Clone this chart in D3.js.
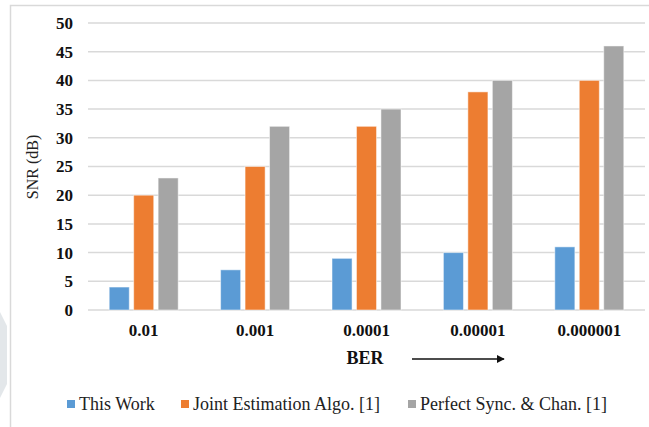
<!DOCTYPE html>
<html>
<head>
<meta charset="utf-8">
<script src="https://cdn.jsdelivr.net/npm/d3@7"></script>
<style>
  html, body { margin: 0; padding: 0; background: #fff; }
  svg text { font-family: "Liberation Serif", "DejaVu Serif", "Times New Roman", serif !important; }
</style>
</head>
<body>
<div id="chart"></div>
<script>
// Chart data
const categories = ["0.01", "0.001", "0.0001", "0.00001", "0.000001"];
const seriesNames = ["This Work", "Joint Estimation Algo. [1]", "Perfect Sync. & Chan. [1]"];
const thisWork = [4, 7, 9, 10, 11];
const jointEstimation = [20, 25, 32, 38, 40];
const perfectSync = [23, 32, 35, 40, 46];
const yTicks = [0, 5, 10, 15, 20, 25, 30, 35, 40, 45, 50];

const colors = ["#5B9BD5", "#ED7D31", "#A5A5A5"];
const seriesValues = [thisWork, jointEstimation, perfectSync];

const width = 649;
const height = 427;
const margin = { top: 23, right: 4, bottom: 117, left: 88 };
const serif = "'Liberation Serif', 'DejaVu Serif', serif";

const svg = d3.select("#chart")
    .append("svg")
    .attr("width", width)
    .attr("height", height);

// Outer frame (top and left edges visible)
svg.append("path")
    .attr("d", `M10.5,${height} V5.5 H${width}`)
    .attr("fill", "none")
    .attr("stroke", "#D9D9D9")
    .attr("stroke-width", 1.5);

// faint watermark shape on the left edge
svg.append("path")
    .attr("d", "M0,312 L7,326 L7,384 L0,398 Z")
    .attr("fill", "#E3E7EA");

const x0 = d3.scaleBand()
    .domain(categories)
    .range([margin.left, width - margin.right]);

const x1 = d3.scaleBand()
    .domain(seriesNames)
    .range([-34.5, 34.5])
    .paddingInner(0.18);

const y = d3.scaleLinear()
    .domain([0, 50])
    .range([height - margin.bottom, margin.top]);

// Gridlines
svg.append("g")
    .selectAll("line")
    .data(yTicks)
    .enter().append("line")
    .attr("x1", margin.left)
    .attr("x2", width - margin.right)
    .attr("y1", d => y(d))
    .attr("y2", d => y(d))
    .attr("stroke", "#D9D9D9")
    .attr("stroke-width", 1.5);

// Y axis labels
const yAxis = svg.append("g")
    .attr("transform", `translate(${margin.left},0)`)
    .call(d3.axisLeft(y).tickValues(yTicks).tickSize(0).tickPadding(15));
yAxis.attr("font-family", serif);
yAxis.select(".domain").remove();
yAxis.selectAll("text")
    .attr("font-weight", "bold")
    .attr("font-size", 17)
    .attr("fill", "#111");

// Bars
const rows = categories.map((c, i) => ({
    cat: c,
    vals: seriesNames.map((s, j) => ({ key: s, value: seriesValues[j][i], color: colors[j] }))
}));

svg.append("g")
    .selectAll("g")
    .data(rows)
    .enter().append("g")
    .attr("transform", d => `translate(${x0(d.cat) + x0.bandwidth() / 2},0)`)
    .selectAll("rect")
    .data(d => d.vals)
    .enter().append("rect")
    .attr("x", d => x1(d.key))
    .attr("y", d => y(d.value))
    .attr("width", x1.bandwidth())
    .attr("height", d => y(0) - y(d.value))
    .attr("fill", d => d.color)
    .attr("stroke", "#fff")
    .attr("stroke-opacity", 0.5)
    .attr("stroke-width", 1);

// X axis labels
const xAxis = svg.append("g")
    .attr("transform", `translate(0,${y(0)})`)
    .call(d3.axisBottom(x0).tickSize(0).tickPadding(14));
xAxis.attr("font-family", serif);
xAxis.select(".domain").remove();
xAxis.selectAll("text")
    .attr("font-weight", "bold")
    .attr("font-size", 17)
    .attr("fill", "#111");

// Axis titles
svg.append("text")
    .attr("transform", "translate(38,167) rotate(-90)")
    .attr("text-anchor", "middle")
    .attr("font-size", 16)
    .attr("fill", "#222")
    .text("SNR (dB)");

svg.append("text")
    .attr("x", 365)
    .attr("y", 364)
    .attr("text-anchor", "middle")
    .attr("font-weight", "bold")
    .attr("font-size", 18)
    .attr("fill", "#111")
    .text("BER");

// Arrow next to BER
svg.append("defs").append("marker")
    .attr("id", "arrowhead")
    .attr("viewBox", "0 0 10 10")
    .attr("refX", 9)
    .attr("refY", 5)
    .attr("markerWidth", 6)
    .attr("markerHeight", 6)
    .attr("orient", "auto")
    .append("path")
    .attr("d", "M0,0 L10,5 L0,10 Z")
    .attr("fill", "#111");

svg.append("line")
    .attr("x1", 412)
    .attr("x2", 504)
    .attr("y1", 359)
    .attr("y2", 359)
    .attr("stroke", "#111")
    .attr("stroke-width", 1.3)
    .attr("marker-end", "url(#arrowhead)");

// Legend
const legendX = [67, 181, 408];
const legend = svg.append("g")
    .selectAll("g")
    .data(seriesNames)
    .enter().append("g")
    .attr("transform", (d, i) => `translate(${legendX[i]},405)`);

legend.append("rect")
    .attr("x", 0)
    .attr("y", -5)
    .attr("width", 8)
    .attr("height", 8)
    .attr("fill", (d, i) => colors[i]);

legend.append("text")
    .attr("x", 12)
    .attr("y", 5)
    .attr("font-size", 18)
    .attr("fill", "#222")
    .text(d => d);
</script>
</body>
</html>
